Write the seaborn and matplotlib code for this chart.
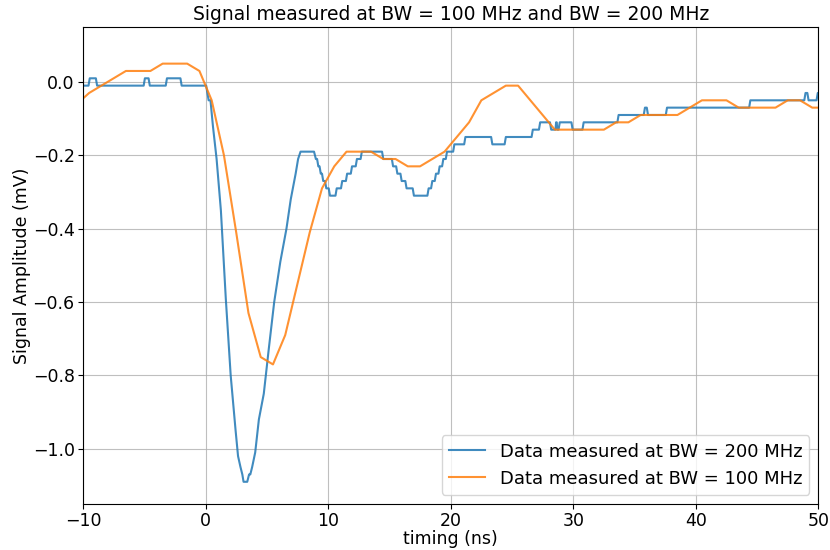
import numpy as np
import pandas as pd
import matplotlib
matplotlib.use("Agg")
import matplotlib.pyplot as plt
import seaborn as sns

# ---------------- data ----------------
# 100 MHz bandwidth: samples every 1 ns
bw100_t = np.arange(-10.5, 51.0, 1.0)
bw100_v = [-0.06, -0.03, -0.01, 0.01, 0.03, 0.03, 0.03, 0.05, 0.05, 0.05,
           0.03, -0.05, -0.20, -0.41, -0.63, -0.75, -0.77, -0.69, -0.55, -0.41,
           -0.29, -0.23, -0.19, -0.19, -0.19, -0.21, -0.21, -0.23, -0.23, -0.21,
           -0.19, -0.15, -0.11, -0.05, -0.03, -0.01, -0.01, -0.05, -0.09, -0.13,
           -0.13, -0.13, -0.13, -0.13, -0.11, -0.11, -0.09, -0.09, -0.09, -0.09,
           -0.07, -0.05, -0.05, -0.05, -0.07, -0.07, -0.07, -0.07, -0.05, -0.05,
           -0.07, -0.07]

# 200 MHz bandwidth: segments (level held from start to end time)
bw200_start = [-10.0, -9.45, -8.85, -4.95, -4.55, -3.15, -1.95,
               0.25, 0.6, 0.9, 1.25, 1.65, 2.05, 2.45, 2.65, 2.85, 3.0, 3.1,
               3.55, 3.8, 4.05, 4.35, 4.75, 5.15, 5.6, 6.1, 6.6, 6.95, 7.35, 7.55, 7.75,
               9.0, 9.2, 9.4, 9.6, 9.85, 10.15, 10.7, 11.15, 11.55, 11.95, 12.35, 12.75,
               14.5, 15.3, 15.65, 16.0, 16.4, 17.0, 18.2, 18.5, 18.8, 19.1, 19.4, 19.7,
               20.3, 21.2, 23.4, 24.5, 26.7, 27.3, 28.2, 28.6, 28.7, 28.9, 29.95,
               30.85, 33.7, 35.85, 36.1, 37.65, 44.45, 48.95, 49.2, 49.95]
bw200_end = [-9.55, -8.95, -5.05, -4.65, -3.25, -2.05, 0.05,
             0.4, 0.6, 0.9, 1.25, 1.65, 2.05, 2.45, 2.65, 2.85, 3.0, 3.4,
             3.65, 3.8, 4.05, 4.35, 4.75, 5.15, 5.6, 6.1, 6.6, 6.95, 7.35, 7.55, 8.85,
             9.1, 9.3, 9.5, 9.75, 10.05, 10.6, 11.05, 11.45, 11.85, 12.25, 12.65, 14.4,
             15.2, 15.55, 15.9, 16.3, 16.9, 18.1, 18.4, 18.7, 19.0, 19.3, 19.6, 20.2,
             21.1, 23.3, 24.4, 26.6, 27.2, 28.1, 28.55, 28.65, 28.8, 29.85, 30.75,
             33.6, 35.75, 36.0, 37.55, 44.35, 48.85, 49.1, 49.85, 50.0]
bw200_level = [-0.01, 0.01, -0.01, 0.01, -0.01, 0.01, -0.01,
               -0.05, -0.12, -0.21, -0.35, -0.59, -0.80, -0.95, -1.02, -1.05, -1.07, -1.09,
               -1.07, -1.05, -1.01, -0.92, -0.85, -0.73, -0.60, -0.49, -0.40, -0.32, -0.25, -0.21, -0.19,
               -0.21, -0.23, -0.25, -0.27, -0.29, -0.31, -0.29, -0.27, -0.25, -0.23, -0.21, -0.19,
               -0.21, -0.23, -0.25, -0.27, -0.29, -0.31, -0.29, -0.27, -0.25, -0.23, -0.21, -0.19,
               -0.17, -0.15, -0.17, -0.15, -0.13, -0.11, -0.13, -0.11, -0.13, -0.11, -0.13,
               -0.11, -0.09, -0.07, -0.09, -0.07, -0.05, -0.03, -0.05, -0.03]

# Build vertex list for the 200 MHz trace
bw200_t, bw200_v = [], []
for s, e, lv in zip(bw200_start, bw200_end, bw200_level):
    bw200_t.append(s)
    bw200_v.append(lv)
    if e != s:
        bw200_t.append(e)
        bw200_v.append(lv)

df200 = pd.DataFrame({"t": bw200_t, "v": bw200_v})
df100 = pd.DataFrame({"t": bw100_t, "v": bw100_v})

# ---------------- plot ----------------
plt.rcParams["font.family"] = ["DejaVu Sans"]
plt.rcParams["font.size"] = 12

fig = plt.figure(figsize=(8.3, 5.5), dpi=100)
ax = fig.add_axes([0.100, 0.084, 0.886, 0.867])

sns.lineplot(data=df200, x="t", y="v", ax=ax, sort=False, estimator=None,
             color="#1f77b4", lw=1.5, alpha=0.85, label="Data measured at BW = 200 MHz")
sns.lineplot(data=df100, x="t", y="v", ax=ax, sort=False, estimator=None,
             color="#ff7f0e", lw=1.5, alpha=0.85, label="Data measured at BW = 100 MHz")

ax.set_xlim(-10, 50)
ax.set_ylim(-1.15, 0.15)
ax.set_xticks([-10, 0, 10, 20, 30, 40, 50])
ax.set_yticks([-1.0, -0.8, -0.6, -0.4, -0.2, 0.0])
ax.grid(True, color="#b0b0b0", lw=0.8, alpha=0.8)
ax.tick_params(labelsize=12.5, pad=2.5)
ax.set_xlabel("timing (ns)", fontsize=12.5, labelpad=0)
ax.set_ylabel("Signal Amplitude (mV)", fontsize=12.5, labelpad=1)
ax.set_title("Signal measured at BW = 100 MHz and BW = 200 MHz", fontsize=13.5, pad=5)
ax.legend(loc="lower right", fontsize=13)

fig.savefig("out.png", dpi=100)
